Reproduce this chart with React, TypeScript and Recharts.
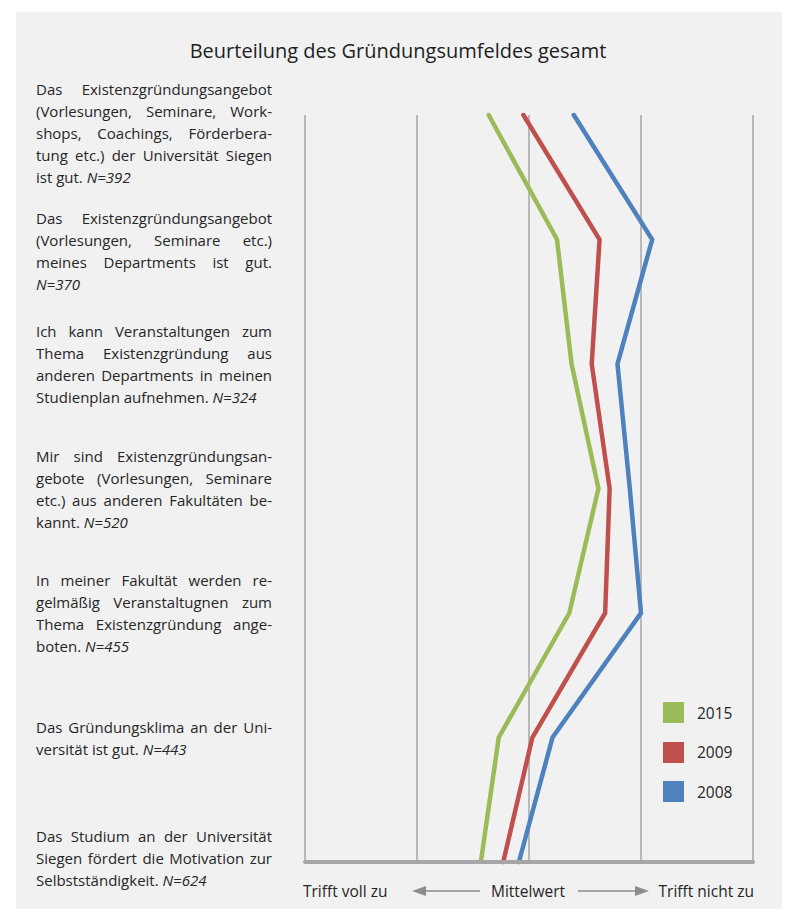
import { LineChart, Line, XAxis, YAxis, CartesianGrid, Legend } from 'recharts';

// statements on the left, one entry per line of the printed block
const statements = [
  ['Das Existenzgründungsangebot', '(Vorlesungen, Seminare, Work-', 'shops, Coachings, Förderbera-', 'tung etc.) der Universität Siegen', 'ist gut.'],
  ['Das Existenzgründungsangebot', '(Vorlesungen, Seminare etc.)', 'meines Departments ist gut.', ''],
  ['Ich kann Veranstaltungen zum', 'Thema Existenzgründung aus', 'anderen Departments in meinen', 'Studienplan aufnehmen.'],
  ['Mir sind Existenzgründungsan-', 'gebote (Vorlesungen, Seminare', 'etc.) aus anderen Fakultäten be-', 'kannt.'],
  ['In meiner Fakultät werden re-', 'gelmäßig Veranstaltugnen zum', 'Thema Existenzgründung ange-', 'boten.'],
  ['Das Gründungsklima an der Uni-', 'versität ist gut.'],
  ['Das Studium an der Universität', 'Siegen fördert die Motivation zur', 'Selbstständigkeit.'],
];
const sampleSizes = [392, 370, 324, 520, 455, 443, 624];

const years = ['2015', '2009', '2008'];
const yearColors = ['#9bbb59', '#c0504d', '#4f81bd'];

// mean ratings, 1 = trifft voll zu ... 5 = trifft nicht zu
const mean2015 = [2.64, 3.25, 3.38, 3.62, 3.36, 2.73, 2.57];
const mean2009 = [2.95, 3.63, 3.56, 3.72, 3.68, 3.03, 2.77];
const mean2008 = [3.4, 4.1, 3.79, 3.9, 4.0, 3.21, 2.91];

const scaleTicks = [1, 2, 3, 4, 5];
const rowTicks = statements.map((_, i) => i);

const data = statements.map((_, i) => ({
  row: i,
  y2015: mean2015[i],
  y2009: mean2009[i],
  y2008: mean2008[i],
}));

const FONT = '"Open Sans", sans-serif';
const TEXT = '#262626';
const W = 766;
const H = 901;
const PLOT_TOP = 103;
const PLOT_H = 747;
const LINE_H = 22;

// label blocks are centred on their row but must not run into each other
const labelTops = (() => {
  let prevBottom = 66 - 19;
  return statements.map((lines, i) => {
    const h = lines.length * LINE_H;
    const y = PLOT_TOP + (i * PLOT_H) / 6;
    let top = Math.max(y - h / 2, prevBottom + 19);
    top = Math.min(top, 879 - h);
    prevBottom = top + h;
    return top;
  });
})();

function StatementTick(props: any) {
  const i = props.payload.value;
  const lines = statements[i];
  if (!lines) return null;
  return (
    <foreignObject x={20} y={labelTops[i]} width={236} height={lines.length * LINE_H + 4}>
      <div style={{ fontFamily: FONT, fontSize: 15, lineHeight: LINE_H + 'px', color: TEXT }}>
        {lines.map((line, k) => {
          const last = k === lines.length - 1;
          return (
            <div
              key={k}
              style={{ textAlign: last ? 'left' : 'justify', textAlignLast: last ? 'left' : 'justify' }}
            >
              {line}
              {last && (
                <>
                  {line ? ' ' : ''}
                  <i>N={sampleSizes[i]}</i>
                </>
              )}
            </div>
          );
        })}
      </div>
    </foreignObject>
  );
}

function EmptyTick() {
  return <g />;
}

function ScaleCaption() {
  const y = 879;
  return (
    <g fontFamily={FONT} fontSize={15.5} fill={TEXT}>
      <text x={287} y={y} dominantBaseline="central">Trifft voll zu</text>
      <text x={512} y={y} textAnchor="middle" dominantBaseline="central">Mittelwert</text>
      <text x={738} y={y} textAnchor="end" dominantBaseline="central">Trifft nicht zu</text>
      <line x1={408} y1={y} x2={464} y2={y} stroke="#8c8c8c" strokeWidth={1.5} />
      <path d={`M396,${y} L410,${y - 5} L410,${y + 5} Z`} fill="#8c8c8c" />
      <line x1={562} y1={y} x2={620} y2={y} stroke="#8c8c8c" strokeWidth={1.5} />
      <path d={`M633,${y} L619,${y - 5} L619,${y + 5} Z`} fill="#8c8c8c" />
    </g>
  );
}

function YearLegend() {
  return (
    <div style={{ fontFamily: FONT, fontSize: 15.5, color: TEXT }}>
      {years.map((year, i) => (
        <div key={year} style={{ display: 'flex', alignItems: 'center', height: 21, marginBottom: 18.5 }}>
          <span style={{ width: 21, height: 21, background: yearColors[i], display: 'inline-block' }} />
          <span style={{ marginLeft: 13 }}>{year}</span>
        </div>
      ))}
    </div>
  );
}

export default function App() {
  return (
    <div style={{ position: 'relative', left: 8, top: 4, width: W, height: H, background: '#f1f1f1' }}>
      <LineChart
        width={W}
        height={H}
        data={data}
        layout="vertical"
        margin={{ top: PLOT_TOP, right: 29, bottom: 0, left: 0 }}
      >
        <text x={382} y={38} textAnchor="middle" dominantBaseline="central" fontFamily={FONT} fontSize={20} fill="#1e1e1e">
          Beurteilung des Gründungsumfeldes gesamt
        </text>
        <CartesianGrid horizontal={false} stroke="#a6a6a6" strokeWidth={1.5} />
        <XAxis
          type="number"
          domain={[1, 5]}
          ticks={scaleTicks}
          interval={0}
          tick={<EmptyTick />}
          tickLine={false}
          height={51}
          axisLine={{ stroke: '#a6a6a6', strokeWidth: 4, strokeLinecap: 'round' }}
        />
        <YAxis
          type="number"
          dataKey="row"
          domain={[0, 6]}
          ticks={rowTicks}
          interval={0}
          width={289}
          axisLine={false}
          tickLine={false}
          tick={<StatementTick />}
        />
        <Legend
          layout="vertical"
          align="center"
          verticalAlign="middle"
          content={<YearLegend />}
          wrapperStyle={{ left: 647, top: 690, width: 100 }}
        />
        <Line dataKey="y2015" name="2015" stroke={yearColors[0]} strokeWidth={4.5} strokeLinecap="round" dot={false} isAnimationActive={false} />
        <Line dataKey="y2009" name="2009" stroke={yearColors[1]} strokeWidth={4.5} strokeLinecap="round" dot={false} isAnimationActive={false} />
        <Line dataKey="y2008" name="2008" stroke={yearColors[2]} strokeWidth={4.5} strokeLinecap="round" dot={false} isAnimationActive={false} />
        <ScaleCaption />
      </LineChart>
    </div>
  );
}
